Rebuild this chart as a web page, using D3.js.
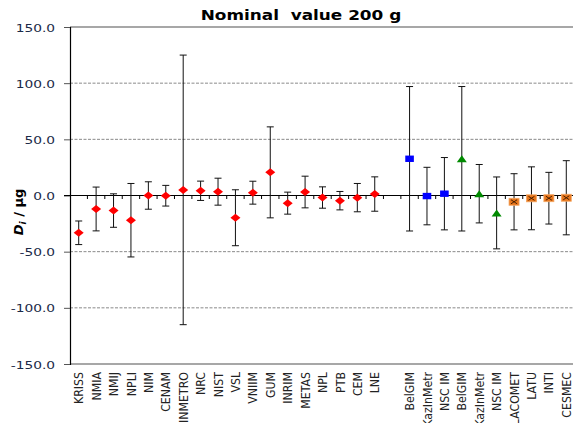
<!DOCTYPE html>
<html>
<head>
<meta charset="utf-8">
<script src="https://cdn.jsdelivr.net/npm/d3@7"></script>
<style>
  body { margin: 0; background: #fff; }
  svg { display: block; font-family: "DejaVu Sans", Verdana, sans-serif; }
</style>
</head>
<body>
<svg id="chart" width="573" height="423"></svg>
<script>
// Category slots along the x axis (one empty slot separates the two groups)
const categories = ["KRISS", "NMIA", "NMIJ", "NPLI", "NIM", "CENAM", "INMETRO", "NRC", "NIST",
  "VSL", "VNIIM", "GUM", "INRIM", "METAS", "NPL", "PTB", "CEM", "LNE", "",
  "BelGIM", "KazInMetr", "NSC IM", "BelGIM", "KazInMetr", "NSC IM",
  "LACOMET", "LATU", "INTI", "CESMEC"];

// Degrees of equivalence D_i (µg) and expanded uncertainties U_i (µg)
const ccmSlots = [0, 1, 2, 3, 4, 5, 6, 7, 8, 9, 10, 11, 12, 13, 14, 15, 16, 17];
const ccmValues = [-33.2, -12.0, -13.4, -22.0, 0.0, -0.2, 5.0, 4.2, 3.4, -19.8, 2.5, 20.6, -6.8, 3.1, -1.8, -4.6, -1.9, 1.3];
const ccmUnc = [10.5, 19.5, 14.9, 32.7, 12.2, 9.2, 120.0, 8.6, 12.0, 24.9, 10.2, 40.5, 9.8, 14.1, 9.5, 8.2, 12.6, 15.3];

const cooSlotsA = [19, 20, 21];
const cooValuesA = [32.7, -0.5, 1.6];
const cooUncA = [64.3, 25.6, 32.2];

const cooSlotsB = [22, 23, 24];
const cooValuesB = [32.7, 1.6, -15.5];
const cooUncB = [64.3, 26.0, 32.0];

const simSlots = [25, 26, 27, 28];
const simValues = [-5.6, -2.5, -2.4, -2.0];
const simUnc = [25.0, 28.0, 23.0, 33.0];

const yTicks = [-150, -100, -50, 0, 50, 100, 150];
const titleText = "Nominal  value 200 g";

// ---------------------------------------------------------------
const svg = d3.select("#chart");
const plot = { left: 70, right: 575, top: 27, bottom: 364 };
const textStretch = 1.25;

const x = d3.scaleBand()
  .domain(d3.range(categories.length))
  .range([plot.left, plot.right])
  .padding(0);
const y = d3.scaleLinear().domain([-150, 150]).range([plot.bottom, plot.top]);
const cx = i => x(i) + x.bandwidth() / 2;

// Title
svg.append("text")
  .attr("transform", `translate(301,20) scale(${textStretch},1)`)
  .attr("text-anchor", "middle")
  .style("white-space", "pre")
  .attr("font-size", 13.5)
  .attr("font-weight", "bold")
  .attr("fill", "#000")
  .text(titleText);

// Horizontal grid lines
svg.append("g").selectAll("line")
  .data(yTicks.filter(t => t !== 0 && Math.abs(t) !== 150))
  .join("line")
  .attr("x1", plot.left).attr("x2", plot.right)
  .attr("y1", d => y(d)).attr("y2", d => y(d))
  .attr("stroke", "#8a8a8a").attr("stroke-width", 1)
  .attr("stroke-dasharray", "3,1.5");

// Top and bottom border lines
svg.append("g").selectAll("line")
  .data([150, -150])
  .join("line")
  .attr("x1", plot.left).attr("x2", plot.right)
  .attr("y1", d => y(d)).attr("y2", d => y(d))
  .attr("stroke", "#8a8a8a").attr("stroke-width", 1.5);

// Y axis
const yAxis = svg.append("g")
  .attr("transform", `translate(${plot.left},0)`)
  .call(d3.axisLeft(y).tickValues(yTicks).tickFormat(d => d.toFixed(1)).tickSize(6).tickPadding(0));
yAxis.select(".domain").attr("stroke", "#000").attr("stroke-width", 1.2);
yAxis.selectAll(".tick line").attr("stroke", "#555");
yAxis.selectAll(".tick text")
  .attr("x", null).attr("dy", null)
  .attr("transform", `translate(-15,4) scale(${textStretch},1)`)
  .attr("font-family", "\"DejaVu Sans\", Verdana, sans-serif")
  .attr("font-size", 11)
  .attr("fill", "#1c2a48");

// Y axis title: D_i / µg
const yTitle = svg.append("text")
  .attr("transform", "translate(23,212) rotate(-90)")
  .attr("text-anchor", "middle")
  .attr("font-size", 13)
  .attr("font-weight", "bold")
  .attr("fill", "#000");
yTitle.append("tspan").attr("font-style", "italic").text("D");
yTitle.append("tspan").attr("font-style", "italic").attr("font-size", 9).attr("dy", 3).text("i");
yTitle.append("tspan").attr("dy", -3).text(" / µg");

// Zero line with category tick marks
svg.append("line")
  .attr("x1", plot.left - 6).attr("x2", plot.right)
  .attr("y1", y(0)).attr("y2", y(0))
  .attr("stroke", "#000").attr("stroke-width", 1.1);
svg.append("g").selectAll("line")
  .data(d3.range(1, categories.length))
  .join("line")
  .attr("x1", i => x(i)).attr("x2", i => x(i))
  .attr("y1", y(0)).attr("y2", y(0) + 3.5)
  .attr("stroke", "#000").attr("stroke-width", 1);

// Category labels below the plot
const xAxis = svg.append("g")
  .attr("transform", `translate(0,${plot.bottom})`)
  .call(d3.axisBottom(x).tickFormat(i => categories[i]).tickSize(0).tickPadding(0));
xAxis.select(".domain").remove();
xAxis.selectAll(".tick text")
  .attr("y", null).attr("dy", null)
  .attr("text-anchor", "end")
  .attr("transform", "translate(4.6,8) rotate(-90) scale(1,1.15)")
  .attr("font-family", "\"DejaVu Sans\", Verdana, sans-serif")
  .attr("font-size", 11)
  .attr("fill", "#222");

// Error bars
function errorBars(slots, values, unc) {
  const g = svg.append("g").attr("stroke", "#111").attr("stroke-width", 1).attr("fill", "none");
  const data = slots.map((s, k) => ({ s, v: values[k], u: unc[k] }));
  g.selectAll("line.bar").data(data).join("line").attr("class", "bar")
    .attr("x1", d => cx(d.s)).attr("x2", d => cx(d.s))
    .attr("y1", d => y(d.v + d.u)).attr("y2", d => y(d.v - d.u));
  g.selectAll("line.capTop").data(data).join("line").attr("class", "capTop")
    .attr("x1", d => cx(d.s) - 3.5).attr("x2", d => cx(d.s) + 3.5)
    .attr("y1", d => y(d.v + d.u)).attr("y2", d => y(d.v + d.u));
  g.selectAll("line.capBot").data(data).join("line").attr("class", "capBot")
    .attr("x1", d => cx(d.s) - 3.5).attr("x2", d => cx(d.s) + 3.5)
    .attr("y1", d => y(d.v - d.u)).attr("y2", d => y(d.v - d.u));
  return data;
}

const ccmData = errorBars(ccmSlots, ccmValues, ccmUnc);
const cooDataA = errorBars(cooSlotsA, cooValuesA, cooUncA);
const cooDataB = errorBars(cooSlotsB, cooValuesB, cooUncB);
const simData = errorBars(simSlots, simValues, simUnc);

// Markers
svg.append("g").selectAll("path").data(ccmData).join("path")
  .attr("transform", d => `translate(${cx(d.s)},${y(d.v)})`)
  .attr("d", "M-5,0L0,-4L5,0L0,4Z")
  .attr("fill", "#ff0000");

svg.append("g").selectAll("rect").data(cooDataA).join("rect")
  .attr("x", d => cx(d.s) - 4.3).attr("y", d => y(d.v) - 3.2)
  .attr("width", 8.6).attr("height", 6.4)
  .attr("fill", "#0000ff");

svg.append("g").selectAll("path").data(cooDataB).join("path")
  .attr("transform", d => `translate(${cx(d.s)},${y(d.v)})`)
  .attr("d", "M-5,3.5L0,-3.5L5,3.5Z")
  .attr("fill", "#008a00");

const simG = svg.append("g").selectAll("g").data(simData).join("g")
  .attr("transform", d => `translate(${cx(d.s)},${y(d.v)})`);
simG.append("rect")
  .attr("x", -5).attr("y", -3.5).attr("width", 10).attr("height", 7)
  .attr("fill", "#e8761c").attr("stroke", "#f4a764").attr("stroke-width", 0.8);
simG.append("path")
  .attr("d", "M-3,-2L3,2M-3,2L3,-2")
  .attr("stroke", "#4a2000").attr("stroke-width", 1);
</script>
</body>
</html>
